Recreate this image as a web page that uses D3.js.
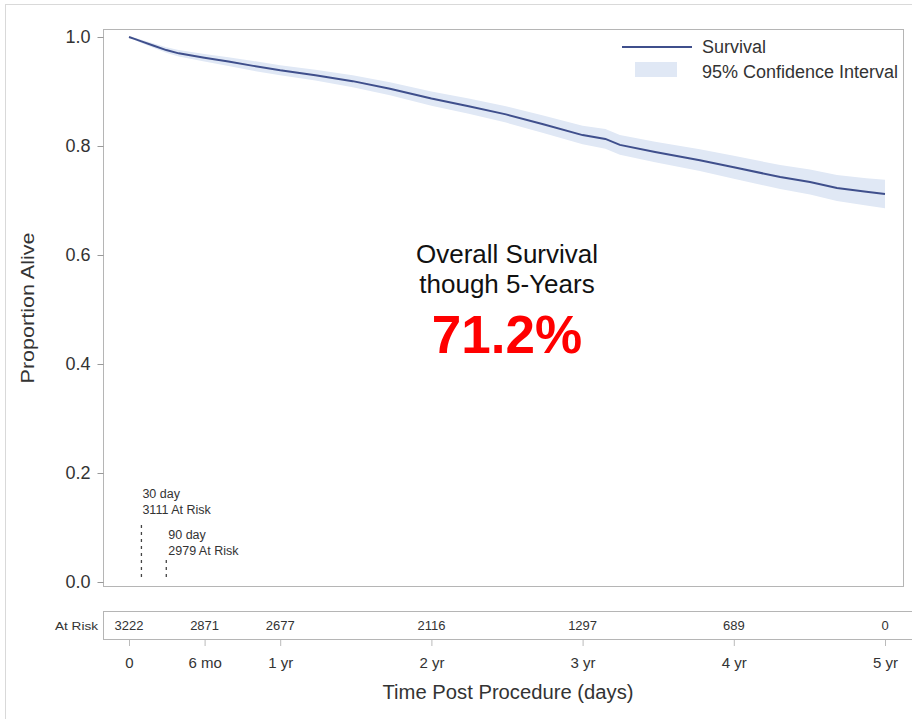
<!DOCTYPE html>
<html><head><meta charset="utf-8">
<script src="https://cdn.jsdelivr.net/npm/d3@7/dist/d3.min.js"></script>
<style>body{margin:0;background:#fff}text{font-family:"Liberation Sans",Arial,sans-serif}</style>
</head><body>
<svg id="c" width="912" height="719"></svg>
<script>
const days  = [0,15,30,60,90,120,182,240,300,365,450,540,630,730,820,910,1000,1095,1150,1185,1270,1378,1460,1572,1644,1709,1780,1825];
const surv  = [1.000,0.996,0.992,0.984,0.976,0.970,0.962,0.955,0.947,0.939,0.930,0.919,0.905,0.887,0.873,0.858,0.840,0.820,0.813,0.802,0.789,0.774,0.761,0.743,0.734,0.723,0.716,0.712];
const lower = [1.000,0.994,0.989,0.980,0.971,0.964,0.955,0.947,0.938,0.930,0.920,0.908,0.893,0.874,0.859,0.843,0.824,0.803,0.795,0.784,0.770,0.754,0.740,0.721,0.711,0.699,0.691,0.686];
const upper = [1.000,0.998,0.995,0.988,0.981,0.976,0.969,0.963,0.956,0.948,0.940,0.930,0.917,0.900,0.887,0.873,0.856,0.837,0.831,0.820,0.808,0.794,0.782,0.765,0.757,0.747,0.741,0.738];
const yTicks = [0,0.2,0.4,0.6,0.8,1.0];
const xTickDays = [0,182.5,365,730,1095,1460,1825];
const xTickLabels = ["0","6 mo","1 yr","2 yr","3 yr","4 yr","5 yr"];
const atRisk = [3222,2871,2677,2116,1297,689,0];
const marks = [{day:30,label:"30 day",risk:"3111 At Risk"},{day:90,label:"90 day",risk:"2979 At Risk"}];

const svg = d3.select("#c");
const x = d3.scaleLinear().domain([0,1825]).range([129,885]);
const y = d3.scaleLinear().domain([0,1]).range([582,37]);
const F = {l:103,t:29,r:903,b:586};
const TXT = "#333";

svg.append("rect").attr("x",5.5).attr("y",4.5).attr("width",920).attr("height",730)
  .attr("fill","none").attr("stroke","#d9d9d9");
svg.append("rect").attr("x",F.l+0.5).attr("y",F.t+0.5).attr("width",F.r-F.l).attr("height",F.b-F.t)
  .attr("fill","#fff").attr("stroke","#b5b5b5");

const data = days.map((d,i)=>({d,s:surv[i],lo:lower[i],hi:upper[i]}));
svg.append("path").datum(data)
  .attr("d",d3.area().x(p=>x(p.d)).y0(p=>y(p.lo)).y1(p=>y(p.hi)))
  .attr("fill","#e0e8f5");
svg.append("path").datum(data)
  .attr("d",d3.line().x(p=>x(p.d)).y(p=>y(p.s)))
  .attr("fill","none").attr("stroke","#3f4f8c").attr("stroke-width",2);

// y axis
const ya = svg.append("g").attr("transform",`translate(${F.l+0.5},0)`)
  .call(d3.axisLeft(y).tickValues(yTicks).tickFormat(d3.format(".1f")).tickSize(6).tickPadding(7));
ya.select(".domain").remove();
ya.selectAll("line").attr("stroke","#999");
ya.selectAll("text").attr("font-size",18).attr("fill",TXT).style("font-family","Liberation Sans, Arial, sans-serif");
svg.append("text").attr("transform","translate(34,308) rotate(-90)").attr("text-anchor","middle")
  .attr("font-size",19).attr("textLength",151).attr("lengthAdjust","spacingAndGlyphs")
  .attr("fill",TXT).text("Proportion Alive");

// legend
svg.append("line").attr("x1",622).attr("x2",692).attr("y1",47).attr("y2",47).attr("stroke","#3f4f8c").attr("stroke-width",2);
svg.append("rect").attr("x",635).attr("y",62).attr("width",42).attr("height",15).attr("fill","#e0e8f5");
svg.append("text").attr("x",702).attr("y",53).attr("font-size",18).attr("fill",TXT).text("Survival");
svg.append("text").attr("x",702).attr("y",78).attr("font-size",18).attr("fill",TXT).text("95% Confidence Interval");

// center annotation
svg.append("text").attr("x",507).attr("y",263).attr("text-anchor","middle").attr("font-size",26).attr("fill","#111").text("Overall Survival");
svg.append("text").attr("x",507).attr("y",293).attr("text-anchor","middle").attr("font-size",26).attr("fill","#111").text("though 5-Years");
svg.append("text").attr("x",507).attr("y",353).attr("text-anchor","middle").attr("font-size",53).attr("font-weight","bold").attr("fill","#ff0000").text("71.2%");

// 30/90 day markers
const mTop = [525,560], tTop = [498,539];
marks.forEach((m,i)=>{
  svg.append("line").attr("x1",x(m.day)).attr("x2",x(m.day)).attr("y1",mTop[i]).attr("y2",580)
    .attr("stroke","#444").attr("stroke-dasharray","3,4").attr("stroke-width",1.3);
  svg.append("text").attr("x",x(m.day)+(i?2:1)).attr("y",tTop[i]).attr("font-size",12.5).attr("fill",TXT).text(m.label);
  svg.append("text").attr("x",x(m.day)+(i?2:1)).attr("y",tTop[i]+16).attr("font-size",12.5).attr("fill",TXT).text(m.risk);
});

// at risk box
svg.append("rect").attr("x",F.l+0.5).attr("y",611.5).attr("width",830).attr("height",28).attr("fill","#fff").attr("stroke","#b5b5b5");
svg.append("text").attr("x",98).attr("y",630).attr("text-anchor","end").attr("font-size",11)
  .attr("textLength",43).attr("lengthAdjust","spacingAndGlyphs").attr("fill",TXT).text("At Risk");
svg.selectAll(".ar").data(atRisk).enter().append("text")
  .attr("x",(d,i)=>x(xTickDays[i])).attr("y",630).attr("text-anchor","middle").attr("font-size",13).attr("fill",TXT).text(d=>d);

// x axis
const xa = svg.append("g").attr("transform","translate(0,640)")
  .call(d3.axisBottom(x).tickValues(xTickDays).tickFormat((d,i)=>xTickLabels[i]).tickSize(6).tickPadding(11));
xa.select(".domain").remove();
xa.selectAll("line").attr("stroke","#bbb");
xa.selectAll("text").attr("font-size",15).attr("fill",TXT).style("font-family","Liberation Sans, Arial, sans-serif");
svg.append("text").attr("x",508).attr("y",699).attr("text-anchor","middle").attr("font-size",20)
  .attr("textLength",251).attr("lengthAdjust","spacingAndGlyphs").attr("fill",TXT).text("Time Post Procedure (days)");
</script>
</body></html>
